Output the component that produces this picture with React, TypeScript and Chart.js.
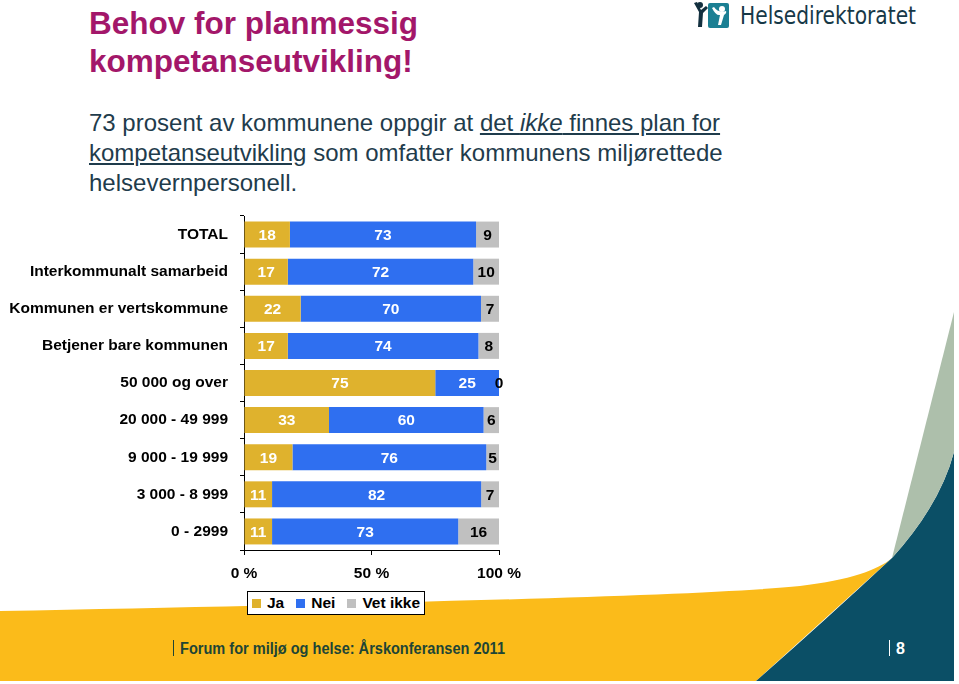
import React, { useEffect, useRef } from "react";
import { Chart, registerables } from "chart.js";

Chart.register(...registerables);

const categories = [
  "TOTAL",
  "Interkommunalt samarbeid",
  "Kommunen er vertskommune",
  "Betjener bare kommunen",
  "50 000 og over",
  "20 000 - 49 999",
  "9 000 - 19 999",
  "3 000 - 8 999",
  "0 - 2999",
];
const jaValues = [18, 17, 22, 17, 75, 33, 19, 11, 11];
const neiValues = [73, 72, 70, 74, 25, 60, 76, 82, 73];
const vetIkkeValues = [9, 10, 7, 8, 0, 6, 5, 7, 16];
const seriesNames = ["Ja", "Nei", "Vet ikke"];
const seriesColors = ["#dfb22d", "#2f6ff0", "#c0c0c0"];
const labelColors = ["#ffffff", "#ffffff", "#000000"];
const xTickSuffix = " %";

const FONT = "'Liberation Sans', Arial, Helvetica, sans-serif";
const rawSeries = [jaValues, neiValues, vetIkkeValues];

const valueLabels = {
  id: "valueLabels",
  afterDatasetsDraw(chart: any) {
    const ctx = chart.ctx;
    ctx.save();
    ctx.font = `bold 15.5px ${FONT}`;
    ctx.textAlign = "center";
    ctx.textBaseline = "middle";
    chart.data.datasets.forEach((_ds: any, di: number) => {
      const meta = chart.getDatasetMeta(di);
      meta.data.forEach((el: any, i: number) => {
        const p = el.getCenterPoint();
        ctx.fillStyle = labelColors[di];
        ctx.fillText(String(rawSeries[di][i]), p.x, p.y + 1);
      });
    });
    ctx.restore();
  },
};

export default function App() {
  const ref = useRef<HTMLCanvasElement>(null);

  useEffect(() => {
    const totals = categories.map(
      (_, i) => jaValues[i] + neiValues[i] + vetIkkeValues[i]
    );
    const chart = new Chart(ref.current as HTMLCanvasElement, {
      type: "bar",
      data: {
        labels: categories,
        datasets: rawSeries.map((vals, di) => ({
          label: seriesNames[di],
          data: vals.map((v, i) => (v / totals[i]) * 100),
          backgroundColor: seriesColors[di],
          borderWidth: 0,
          barPercentage: 0.7,
          categoryPercentage: 1,
        })),
      },
      options: {
        indexAxis: "y",
        responsive: false,
        animation: false,
        devicePixelRatio: 1,
        layout: { padding: { top: 6, right: 30, left: 0, bottom: 0 } },
        plugins: {
          legend: { display: false },
          tooltip: { enabled: false },
        },
        scales: {
          x: {
            stacked: true,
            min: 0,
            max: 100,
            afterFit: (s: any) => {
              s.height = 35;
            },
            ticks: {
              stepSize: 50,
              callback: (v: any) => `${v}${xTickSuffix}`,
              color: "#000",
              font: { family: FONT, size: 15.5, weight: "bold" },
              padding: 9,
              maxRotation: 0,
            },
            grid: {
              drawOnChartArea: false,
              drawTicks: true,
              tickLength: 5,
              color: "#000",
            },
            border: { display: true, color: "#000", width: 1 },
          },
          y: {
            stacked: true,
            afterFit: (s: any) => {
              s.width = 244;
              s.paddingTop = 0;
              s.paddingBottom = 0;
            },
            ticks: {
              color: "#000",
              font: { family: FONT, size: 15.5, weight: "bold" },
              padding: 12,
              autoSkip: false,
            },
            grid: {
              drawOnChartArea: false,
              drawTicks: true,
              tickLength: 4,
              color: "#000",
              offset: true,
            },
            border: { display: true, color: "#000", width: 1 },
          },
        },
      } as any,
      plugins: [valueLabels],
    });
    return () => chart.destroy();
  }, []);

  return (
    <div
      style={{
        position: "absolute",
        left: 0,
        top: 0,
        width: 959,
        height: 684,
        overflow: "hidden",
        background: "#ffffff",
        fontFamily: FONT,
      }}
    >
      <svg
        width={959}
        height={684}
        style={{ position: "absolute", left: 0, top: 0 }}
      >
        <path
          d="M0,611 C400,603 700,596 800,586 C850,580 878,570 892,558 L756,681 L0,681 Z"
          fill="#fbbb1a"
        />
        <path
          d="M954,452 Q940,505 892,558 Q820,625 756,681 L954,681 Z"
          fill="#0b4f66"
        />
        <path d="M954,312 L892,558 Q940,505 954,452 Z" fill="#adbfab" />
        {/* logo */}
        <g>
          <circle cx={700} cy={5} r={3} fill="#13303f" />
          <path
            d="M694,3 L699,12 L698,27 L702,27 L703,13 L708,8 L706,6 L701,10 L697,2 Z"
            fill="#13303f"
          />
          <rect x={708} y={3} width={21} height={25} rx={2} fill="#1b7f93" />
          <circle cx={722} cy={9} r={3} fill="#ffffff" />
          <path
            d="M712,8 Q716,16 720,15 L718,25 L721,25 L724,15 Q727,13 726,11 Q718,13 714,7 Z"
            fill="#ffffff"
          />
          <text
            x={740}
            y={24}
            fontFamily="'DejaVu Sans', sans-serif"
            fontSize={25}
            fill="#163847"
            textLength={176}
            lengthAdjust="spacingAndGlyphs"
          >
            Helsedirektoratet
          </text>
        </g>
        {/* footer */}
        <line x1={173.5} y1={640} x2={173.5} y2={656} stroke="#1e4535" strokeWidth={1} />
        <text
          x={180}
          y={654}
          fontFamily={FONT}
          fontWeight="bold"
          fontSize={16}
          fill="#1e4535"
          textLength={325}
          lengthAdjust="spacingAndGlyphs"
        >
          Forum for miljø og helse: Årskonferansen 2011
        </text>
        <line x1={889.5} y1={640} x2={889.5} y2={656} stroke="#ffffff" strokeWidth={1} />
        <text
          x={896}
          y={654}
          fontFamily={FONT}
          fontWeight="bold"
          fontSize={16}
          fill="#ffffff"
        >
          8
        </text>
      </svg>

      <div
        style={{
          position: "absolute",
          left: 89,
          top: 4,
          fontSize: 31.5,
          fontWeight: "bold",
          lineHeight: "38px",
          color: "#a3176a",
          whiteSpace: "nowrap",
        }}
      >
        Behov for planmessig
        <br />
        kompetanseutvikling!
      </div>

      <div
        style={{
          position: "absolute",
          left: 89,
          top: 108,
          fontSize: 24,
          lineHeight: "30px",
          color: "#1f3c4c",
          whiteSpace: "nowrap",
        }}
      >
        73 prosent av kommunene oppgir at{" "}
        <span style={{ textDecoration: "underline" }}>
          det <i>ikke</i> finnes plan for
        </span>
        <br />
        <span style={{ textDecoration: "underline" }}>kompetanseutvikling</span>{" "}
        som omfatter kommunens miljørettede
        <br />
        helsevernpersonell.
      </div>

      <canvas
        ref={ref}
        width={530}
        height={375}
        style={{ position: "absolute", left: 0, top: 210, width: 530, height: 375 }}
      />

      <div
        style={{
          position: "absolute",
          left: 247,
          top: 591,
          width: 172,
          height: 22,
          border: "1px solid #000",
          background: "#ffffff",
          display: "flex",
          alignItems: "center",
          paddingLeft: 4,
          boxSizing: "content-box",
          fontSize: 15.5,
          fontWeight: "bold",
          color: "#000",
          whiteSpace: "nowrap",
        }}
      >
        {seriesNames.map((n, i) => (
          <div
            key={n}
            style={{
              display: "flex",
              alignItems: "center",
              marginRight: i < seriesNames.length - 1 ? 12 : 0,
              whiteSpace: "nowrap",
              flexShrink: 0,
            }}
          >
            <div
              style={{
                width: 9,
                height: 9,
                background: seriesColors[i],
                marginRight: 6,
                flexShrink: 0,
              }}
            />
            <span>{n}</span>
          </div>
        ))}
      </div>
    </div>
  );
}
